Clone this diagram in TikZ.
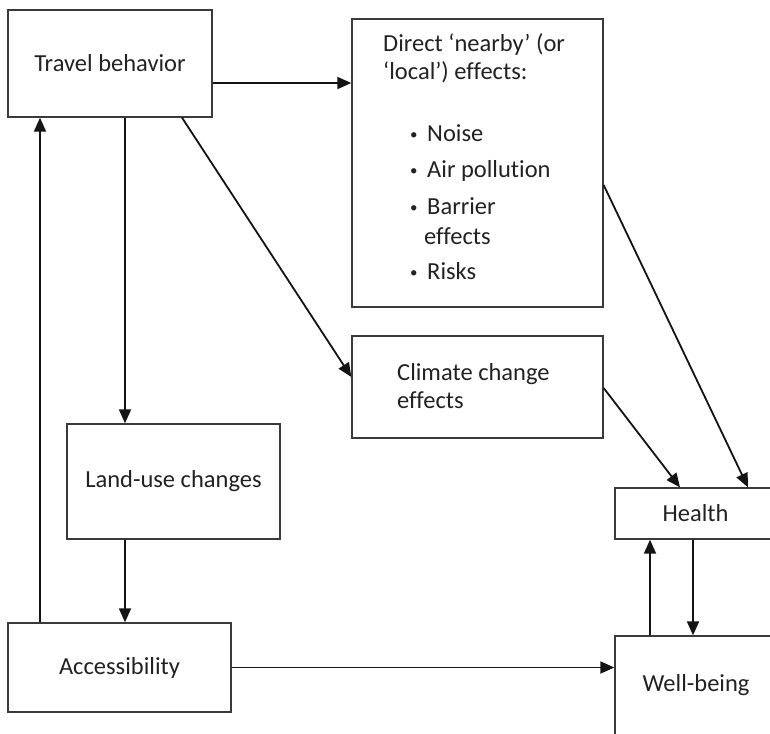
\documentclass[tikz,border=0pt]{standalone}
\usepackage{fontspec}
\setmainfont{Carlito}[Ligatures={NoCommon}]
\usetikzlibrary{arrows.meta,calc}
\definecolor{boxgray}{HTML}{3A3A3A}
\definecolor{txtgray}{HTML}{222222}
\definecolor{arrowblack}{HTML}{141414}
\newcommand{\smallbul}{\makebox[17pt][l]{\fontsize{15}{15}\selectfont\raisebox{2.5pt}{•}}}
\tikzset{
  box/.style={draw=boxgray, line width=1.3pt, inner sep=0pt, text=txtgray,
    font=\fontsize{24.5}{28}\selectfont},
  txt/.style={inner sep=0pt, text=txtgray, anchor=base west,
    font=\fontsize{24.5}{28}\selectfont},
  arr/.style={draw=arrowblack, line width=1.8pt,
    -{Triangle[length=14pt,width=12pt]}},
}
\begin{document}
\begin{tikzpicture}[x=1pt,y=-1pt]
\useasboundingbox (0,0) rectangle (770,733);
\clip (0,0) rectangle (770,733);
\fill[white] (0,0) rectangle (770,733);

\node[box, minimum width=204pt, minimum height=107pt] (tb) at (110,63.5) {Travel behavior};
\node[box, minimum width=251pt, minimum height=288pt] (direct) at (477.5,163) {};
\node[txt] (dtext) at (383,52) {\parbox[t]{215pt}{\fontsize{24.5}{28}\selectfont
  Direct ‘nearby’ (or\\
  ‘local’) effects:\\[34pt]
  \hspace*{27pt}\smallbul Noise\\[8pt]
  \hspace*{27pt}\smallbul Air pollution\\[9pt]
  \hspace*{27pt}\smallbul Barrier\\[2pt]
  \hspace*{41pt}effects\\[7pt]
  \hspace*{27pt}\smallbul Risks}};
\node[box, minimum width=251pt, minimum height=102pt] (climate) at (477.5,387) {};
\node[txt] (ctext) at (397,380) {\parbox[t]{190pt}{\fontsize{24.5}{28}\selectfont
  Climate change\\ effects}};
\node[box, minimum width=213pt, minimum height=115pt] (land) at (173.5,481.5) {Land-use changes};
\node[box, minimum width=223pt, minimum height=89pt] (acc) at (119.5,667.5) {Accessibility};
\node[box, minimum width=161pt, minimum height=51pt] (health) at (695.5,513.5) {Health};
\node[box, minimum width=162pt, minimum height=99pt] (well) at (696,685.5) {Well-being};

% connectors
\coordinate (a1) at ([yshift=-19.5pt]tb.east);
\draw[arr] (a1) -- (a1 -| direct.west);
\coordinate (a2) at ([xshift=15pt]tb.south);
\draw[arr] (a2) -- (a2 |- land.north);
\coordinate (a3) at ([xshift=72pt]tb.south);
\draw[arr] (a3) -- ([yshift=10pt]climate.west);
\coordinate (a4) at ([xshift=-79.5pt]acc.north);
\draw[arr] (a4) -- (a4 |- tb.south);
\coordinate (a5) at ([xshift=-48.5pt]land.south);
\draw[arr] (a5) -- (a5 |- acc.north);
\draw[arr] (acc.east) -- (acc.east -| well.west);
\coordinate (a7) at ([yshift=-22pt]direct.east);
\draw[arr] (a7) -- ([xshift=52.5pt]health.north);
\coordinate (a8) at ([yshift=-1pt]climate.east);
\draw[arr] (a8) -- ([xshift=-15.5pt]health.north);
\coordinate (a9) at ([xshift=-46pt]well.north);
\draw[arr] (a9) -- (a9 |- health.south);
\coordinate (a10) at ([xshift=-2.5pt]health.south);
\draw[arr] (a10) -- (a10 |- well.north);
\end{tikzpicture}
\end{document}
